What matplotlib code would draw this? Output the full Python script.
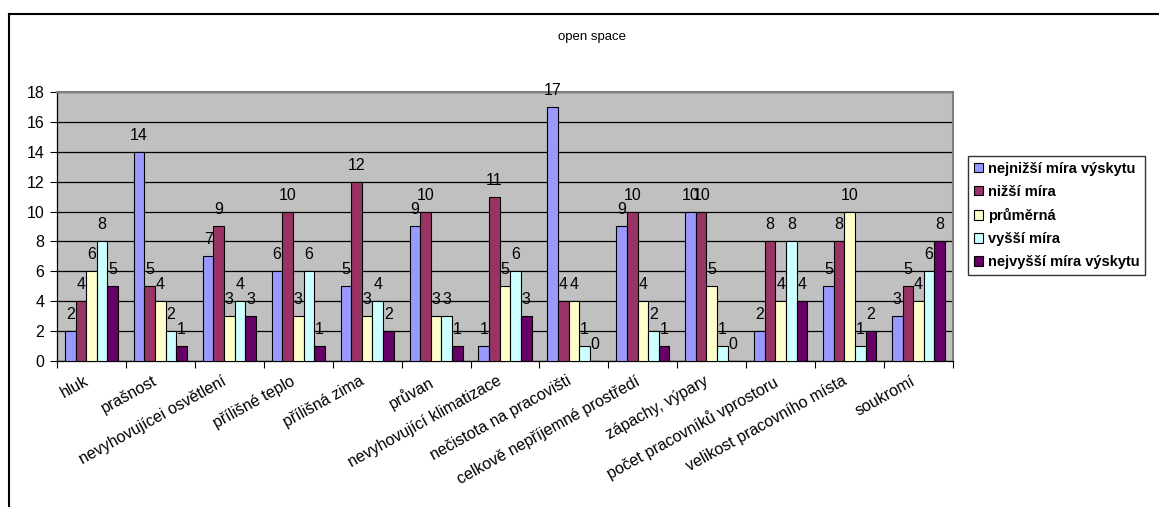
import numpy as np
import matplotlib.pyplot as plt
from matplotlib.lines import Line2D
from matplotlib.transforms import ScaledTranslation

plt.rcParams['font.family'] = ['Liberation Sans', 'DejaVu Sans']

# kategorie (osa x)
kategorie = ['hluk', 'prašnost', 'nevyhovujícei osvětlení', 'přílišné teplo',
             'přílišná zima', 'průvan', 'nevyhovující klimatizace',
             'nečistota na pracovišti', 'celkově nepříjemné prostředí',
             'zápachy, výpary', 'počet pracovníků vprostoru',
             'velikost pracovního místa', 'soukromí']

# jednotlivé řady
nejnizsi = [2, 14, 7, 6, 5, 9, 1, 17, 9, 10, 2, 5, 3]
nizsi = [4, 5, 9, 10, 12, 10, 11, 4, 10, 10, 8, 8, 5]
prumerna = [6, 4, 3, 3, 3, 3, 5, 4, 4, 5, 4, 10, 4]
vyssi = [8, 2, 4, 6, 4, 3, 6, 1, 2, 1, 8, 1, 6]
nejvyssi = [5, 1, 3, 1, 2, 1, 3, 0, 1, 0, 4, 2, 8]

nazvy = ['nejnižší míra výskytu', 'nižší míra', 'průměrná', 'vyšší míra',
         'nejvyšší míra výskytu']
barvy = ['#9999FF', '#993366', '#FFFFCC', '#CCFFFF', '#660066']
rady = [nejnizsi, nizsi, prumerna, vyssi, nejvyssi]

fig = plt.figure(figsize=(11.59, 5.07), dpi=100)
ax = fig.add_axes([57 / 1159, 1 - 361 / 507, 896 / 1159, 269 / 507])
ax.set_facecolor('#C0C0C0')

# rámeček grafu
fig.add_artist(Line2D([9 / 1159, 1.0], [1 - 14 / 507, 1 - 14 / 507], color='black', lw=1.5))
fig.add_artist(Line2D([9 / 1159, 9 / 1159], [0, 1 - 14 / 507], color='black', lw=1.5))

x = np.arange(len(kategorie))
w = 1 / 6.5
for i, (vals, name, c) in enumerate(zip(rady, nazvy, barvy)):
    pos = x - 2.5 * w + (i + 0.5) * w
    bars = ax.bar(pos, vals, width=w, color=c, edgecolor='black', linewidth=0.8,
                  label=name, zorder=3)
    for b, v in zip(bars, vals):
        ax.annotate(str(v), (b.get_x() + b.get_width() / 2, v), xytext=(0, 6.5),
                    textcoords='offset points', ha='center', va='bottom',
                    fontsize=11.5, zorder=4)

ax.set_xlim(-0.5, len(kategorie) - 0.5)
ax.set_ylim(0, 18)
ax.set_yticks(range(0, 19, 2))
ax.yaxis.grid(True, color='black', lw=0.9, zorder=1)
ax.tick_params(axis='y', labelsize=11.5, length=5, direction='out', width=0.8, pad=4)

ax.set_xticks(np.arange(-0.5, len(kategorie)), minor=False)
ax.set_xticklabels([])
ax.set_xticks(x, minor=True)
ax.set_xticklabels(kategorie, minor=True, rotation=29, ha='right', va='top',
                   rotation_mode='anchor', fontsize=11.5)
ax.tick_params(axis='x', which='major', length=5, width=0.8)
ax.tick_params(axis='x', which='minor', length=0, pad=9)
posun = ScaledTranslation(-8 / 100, 0, fig.dpi_scale_trans)
for lab in ax.get_xticklabels(minor=True):
    lab.set_transform(lab.get_transform() + posun)

for s in ['top', 'right']:
    ax.spines[s].set_color('#808080')
    ax.spines[s].set_linewidth(1.5)
for s in ['left', 'bottom']:
    ax.spines[s].set_color('black')
    ax.spines[s].set_linewidth(0.9)

fig.text(592 / 1159, 1 - 37 / 507, 'open space', ha='center', va='center', fontsize=9.5)

leg = fig.legend(loc='upper left', bbox_to_anchor=(968 / 1159, 1 - 156 / 507),
                 frameon=True, fancybox=False, edgecolor='black',
                 prop={'weight': 'bold', 'size': 10.5}, handlelength=0.6,
                 handleheight=0.6, handletextpad=0.35, borderpad=0.4,
                 labelspacing=0.62, borderaxespad=0)
leg.get_frame().set_linewidth(1.0)

fig.savefig('out.png', dpi=100)
